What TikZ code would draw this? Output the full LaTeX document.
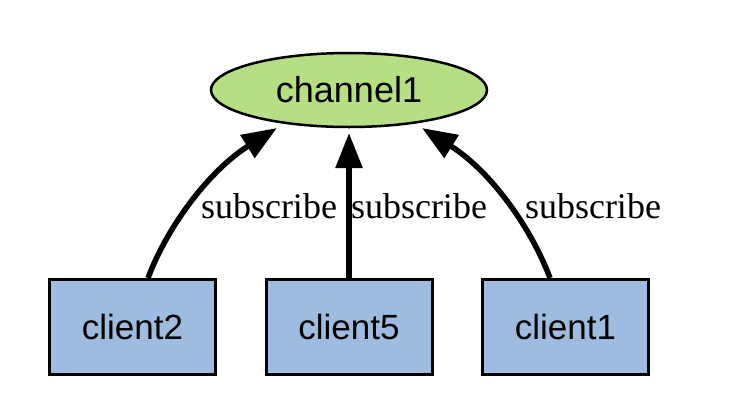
\documentclass[tikz,border=0pt]{standalone}
\usepackage{fontspec}
\setmainfont{Liberation Serif}
\newfontfamily\nodefont{Liberation Sans}
\usetikzlibrary{arrows.meta,shapes.geometric}
\definecolor{chgreen}{HTML}{B6DF84}
\definecolor{clblue}{HTML}{9EBCE0}
\tikzset{
  clientbox/.style={draw=black,line width=3pt,fill=clblue,minimum width=166pt,minimum height=95pt,inner sep=0pt,font=\nodefont\fontsize{35}{40}\selectfont},
  chan/.style={ellipse,draw=black,line width=2.5pt,fill=chgreen,minimum width=276pt,minimum height=74pt,inner sep=0pt,font=\nodefont\fontsize{36}{42}\selectfont},
  subarrow/.style={line width=5.5pt,-{Triangle[length=35pt,width=26pt]}},
  sublabel/.style={anchor=base,inner sep=0pt,font=\fontsize{36}{42}\selectfont}
}
\begin{document}
\begin{tikzpicture}[x=1pt,y=-1pt]
\useasboundingbox (0,0) rectangle (756,402);
\node[chan] (channel) at (349,90) {channel1};
\node[clientbox] (c2) at (132.5,327) {client2};
\node[clientbox] (c5) at (349,327) {client5};
\node[clientbox] (c1) at (565.5,327) {client1};
\coordinate (s2) at (148,278);
\coordinate (s1) at (550,278);
\coordinate (t2) at (277,128);
\coordinate (t5) at (349,133);
\coordinate (t1) at (422,128);
\draw[subarrow] (s2) .. controls (168,225) and (210,170) .. (t2);
\draw[subarrow] (c5.north) -- (t5);
\draw[subarrow] (s1) .. controls (530,225) and (489,170) .. (t1);
\node[sublabel] (l2) at (269,218) {subscribe};
\node[sublabel] (l5) at (419,218) {subscribe};
\node[sublabel] (l1) at (593,218) {subscribe};
\end{tikzpicture}
\end{document}
